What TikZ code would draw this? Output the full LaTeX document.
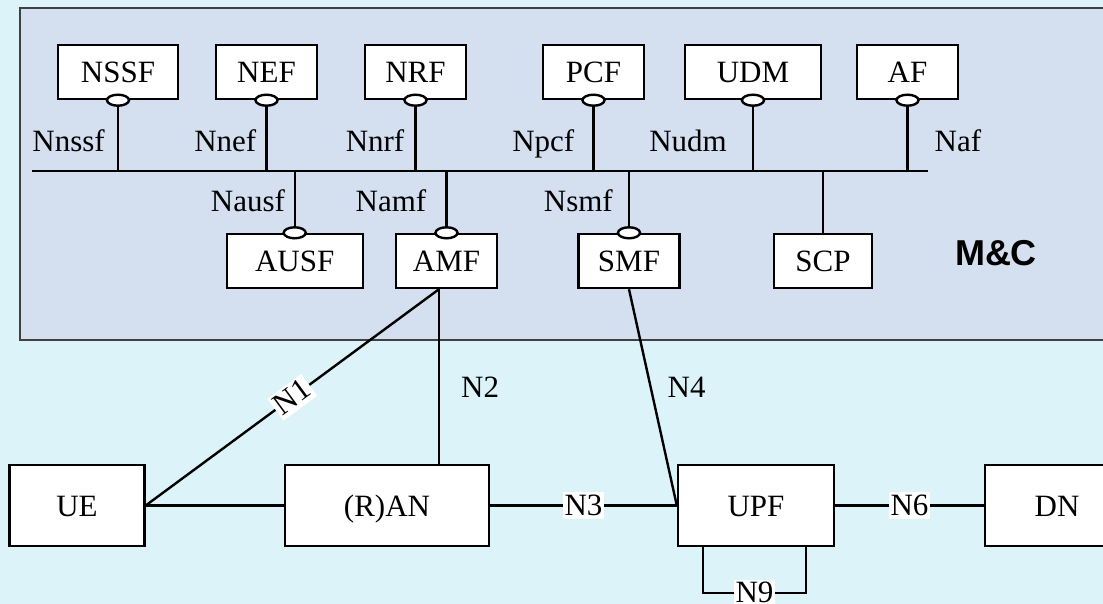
\documentclass[tikz,border=0pt]{standalone}
\usepackage{fontspec}
\setmainfont{Liberation Serif}
\newfontfamily\mcfont{Liberation Sans}
\usetikzlibrary{shapes.geometric}

\definecolor{bgcyan}{HTML}{DCF4F9}
\definecolor{mcpanel}{HTML}{D4DFEF}
\definecolor{mcedge}{HTML}{404040}

\tikzset{
  nfbox/.style={draw, fill=white, line width=1.2pt, inner sep=0pt,
    minimum height=27pt, text height=10.5pt, text depth=0pt,
    font=\fontsize{15.5}{18}\selectfont},
  port/.style={draw, fill=white, ellipse, line width=1.2pt, inner sep=0pt,
    minimum width=11pt, minimum height=5.5pt},
  link/.style={line width=1.2pt},
  iflbl/.style={inner sep=0pt, text height=10.5pt, text depth=0pt,
    font=\fontsize{15.5}{18}\selectfont},
  wlbl/.style={fill=white, inner sep=1pt, text height=10.5pt, text depth=1pt,
    font=\fontsize{15.5}{18}\selectfont},
}

\begin{document}
\begin{tikzpicture}[x=0.5pt, y=-0.5pt]

% Canvas
\clip (0,0) rectangle (1103,604);
\fill[bgcyan] (0,0) rectangle (1103,604);

% M&C panel
\draw[mcedge, fill=mcpanel, line width=0.6pt] (20,8) rectangle (1120,340);
\node[font=\mcfont\bfseries\fontsize{18}{22}\selectfont] (mc) at (996,253) {M\&C};

% Service bus
\coordinate (busL) at (32,171);
\coordinate (busR) at (928,171);
\draw[link] (busL) -- (busR);

% Upper NFs
\foreach \nm/\txt/\cx/\w/\lbl/\anc/\dx in {
    nssf/NSSF/118/60/Nnssf/east/-6,
    nef/NEF/266.5/50.5/Nnef/east/-4.5,
    nrf/NRF/415.5/50.5/Nnrf/east/-5,
    pcf/PCF/593.5/50.5/Npcf/east/-9,
    udm/UDM/753/68/Nudm/east/-12.5,
    af/AF/907.5/50.5/Naf/west/13} {
  \node[nfbox, minimum width=\w pt] (\nm) at (\cx,72) {\txt};
  \node[port] (p\nm) at (\nm.south) {};
  \draw[link] (p\nm.south) -- node[iflbl, anchor=\anc, xshift=\dx pt, yshift=-1pt] {\lbl} (p\nm |- busL);
}

% Lower NFs
\foreach \nm/\txt/\cx/\w/\lbl/\dx in {
    ausf/AUSF/294.7/68/Nausf/-4.3,
    amf/AMF/446.5/50.5/Namf/-9.5,
    smf/SMF/629/50.5/Nsmf/-7.5} {
  \node[nfbox, minimum width=\w pt] (\nm) at (\cx,261) {\txt};
  \node[port] (p\nm) at (\nm.north) {};
  \draw[link] (p\nm |- busL) -- node[iflbl, anchor=east, xshift=\dx pt, yshift=-1pt] {\lbl} (p\nm.north);
}
\node[nfbox, minimum width=49pt] (scp) at (823,261) {SCP};
\draw[link] (scp.north |- busL) -- (scp.north);

% Access and user plane
\node[nfbox, minimum width=67.5pt, minimum height=40.5pt] (ue) at (77,505.5) {UE};
\node[nfbox, minimum width=102pt, minimum height=40.5pt] (ran) at (387,505.5) {(R)AN};
\node[nfbox, minimum width=78pt, minimum height=40.5pt] (upf) at (756,505.5) {UPF};
\node[nfbox, minimum width=72pt, minimum height=40.5pt] (dn) at (1057,505.5) {DN};

% Reference points
\coordinate (amfS) at ([xshift=-3.75pt]amf.south);
\draw[link] (ue) -- (ran);
\draw[link] (ue.east) -- node[wlbl, sloped] {N1} (amfS);
\draw[link] (amfS) -- node[iflbl, anchor=west, xshift=10.5pt, yshift=-5pt] {N2} (amfS |- ran.north);
\draw[link] (ran) -- node[wlbl] {N3} (upf);
\draw[link] (smf.south) -- node[iflbl, pos=0.45, anchor=west, xshift=8pt] {N4} (upf.west);
\draw[link] (upf) -- node[wlbl] {N6} (dn);
\draw[link] ([xshift=-26.5pt]upf.south) -- ++(0,46) -| node[wlbl, pos=0.25] {N9} ([xshift=25pt]upf.south);

\end{tikzpicture}
\end{document}
